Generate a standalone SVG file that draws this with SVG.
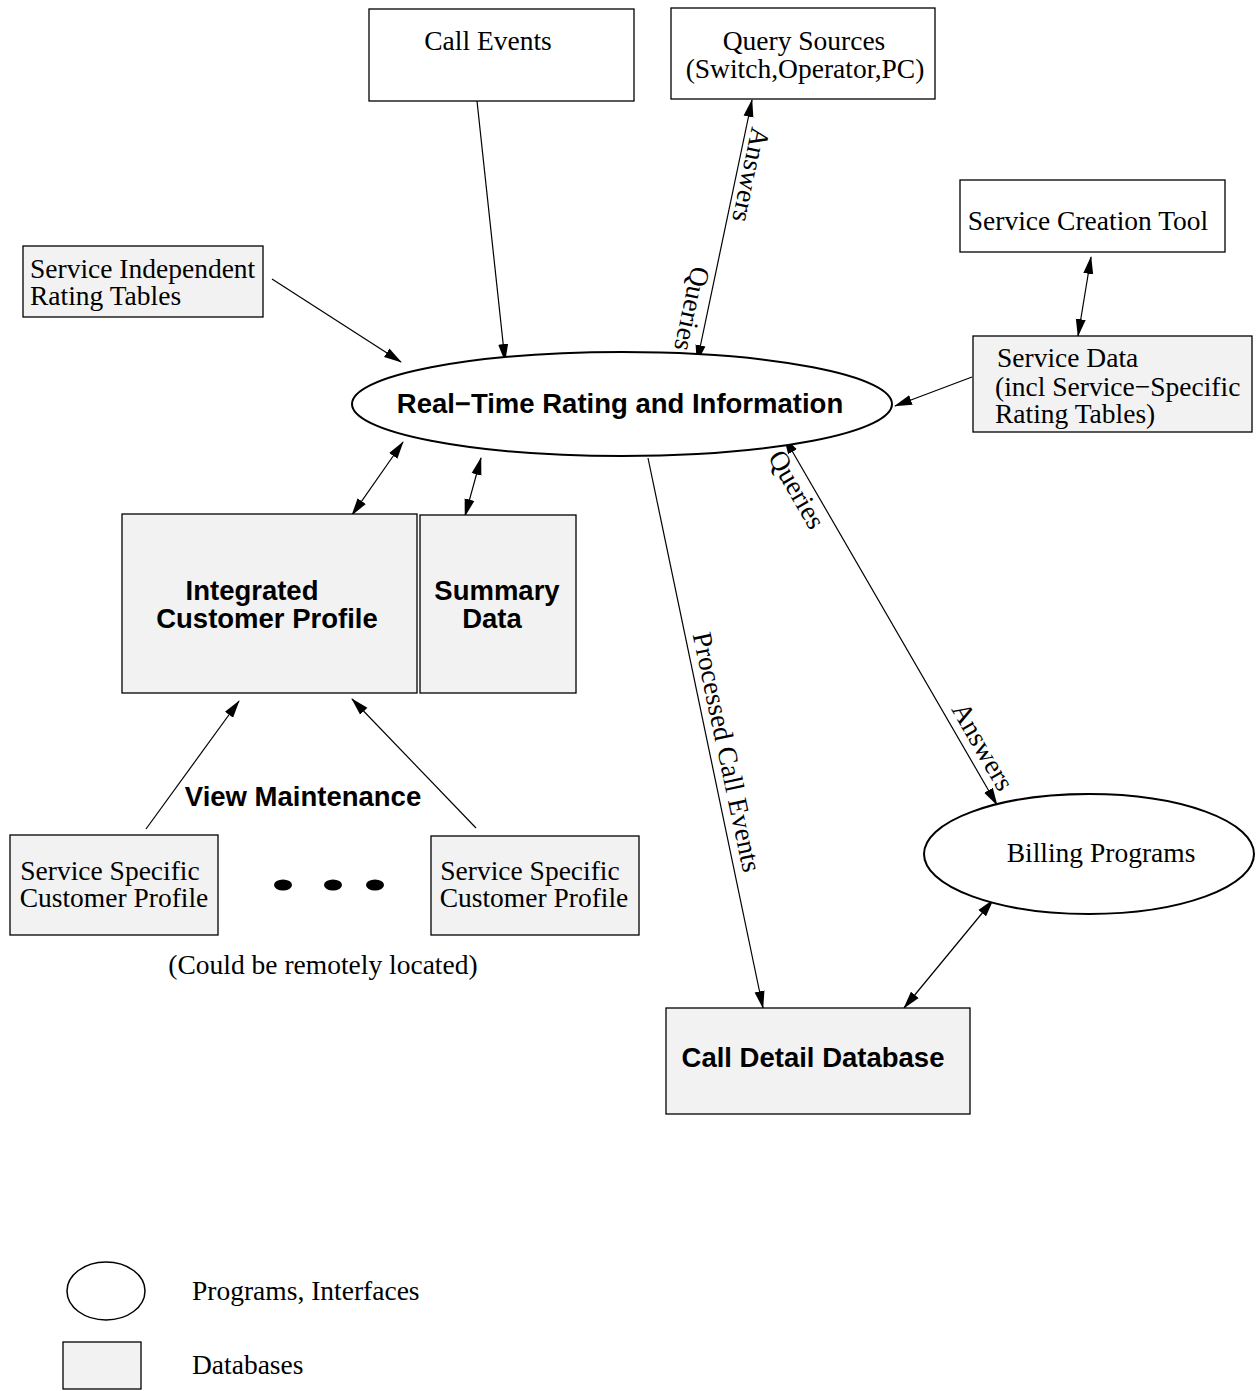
<svg xmlns="http://www.w3.org/2000/svg" width="1259" height="1391" viewBox="0 0 1259 1391">
<style>
.box{fill:#fff;stroke:#000;stroke-width:1.3}
.db{fill:#f2f2f2;stroke:#000;stroke-width:1.3}
.ell{fill:#fff;stroke:#000;stroke-width:2}
.t{font-family:"Liberation Serif","Times New Roman",serif;font-size:27.5px;fill:#000}
.b{font-family:"Liberation Sans",Arial,sans-serif;font-size:27.5px;font-weight:bold;fill:#000}
.c{stroke:#000;stroke-width:1.2;fill:none}
.m{text-anchor:middle}
</style>
<defs>
<marker id="ah" markerUnits="userSpaceOnUse" markerWidth="18" markerHeight="12" refX="17" refY="5" orient="auto-start-reverse" viewBox="0 0 18 10">
<path d="M0,0 L18,5 L0,10 z" fill="#000"/>
</marker>
</defs>
<g id="connectors">
<line class="c" x1="477" y1="101" x2="505" y2="361" marker-end="url(#ah)"/>
<line class="c" x1="752" y1="100" x2="697" y2="362" marker-start="url(#ah)" marker-end="url(#ah)"/>
<line class="c" x1="272" y1="279" x2="401" y2="362" marker-end="url(#ah)"/>
<line class="c" x1="1091" y1="257" x2="1078" y2="336" marker-start="url(#ah)" marker-end="url(#ah)"/>
<line class="c" x1="972" y1="377" x2="895" y2="406" marker-end="url(#ah)"/>
<line class="c" x1="403" y1="442" x2="352" y2="515" marker-start="url(#ah)" marker-end="url(#ah)"/>
<line class="c" x1="481" y1="458" x2="465" y2="516" marker-start="url(#ah)" marker-end="url(#ah)"/>
<line class="c" x1="648" y1="458" x2="763" y2="1008" marker-end="url(#ah)"/>
<line class="c" x1="784" y1="437" x2="997" y2="805" marker-start="url(#ah)" marker-end="url(#ah)"/>
<line class="c" x1="993" y1="900" x2="904" y2="1008" marker-start="url(#ah)" marker-end="url(#ah)"/>
<line class="c" x1="146" y1="829" x2="239" y2="701" marker-end="url(#ah)"/>
<line class="c" x1="476" y1="828" x2="352" y2="699" marker-end="url(#ah)"/>
<text class="t m" transform="translate(742,173) rotate(102)">Answers</text>
<text class="t m" transform="translate(683,307) rotate(102)">Queries</text>
<text class="t m" transform="translate(718,754) rotate(78)">Processed Call Events</text>
<text class="t m" transform="translate(789,494) rotate(60)">Queries</text>
<text class="t m" transform="translate(975,751) rotate(60)">Answers</text>
</g>
<g id="call-events">
<rect class="box" x="369" y="9" width="265" height="92"/>
<text class="t m" x="488" y="50">Call Events</text>
</g>
<g id="query-sources">
<rect class="box" x="671" y="8" width="264" height="91"/>
<text class="t m" x="804" y="50">Query Sources</text>
<text class="t m" x="805" y="78">(Switch,Operator,PC)</text>
</g>
<g id="service-creation-tool">
<rect class="box" x="960" y="180" width="265" height="72"/>
<text class="t m" x="1088" y="230">Service Creation Tool</text>
</g>
<g id="service-independent-rating-tables">
<rect class="db" x="23" y="246" width="240" height="71"/>
<text class="t" x="30" y="278">Service Independent</text>
<text class="t" x="30" y="305">Rating Tables</text>
</g>
<g id="service-data">
<rect class="db" x="973" y="336" width="279" height="96"/>
<text class="t" x="997" y="367">Service Data</text>
<text class="t" x="995" y="396">(incl Service−Specific</text>
<text class="t" x="995" y="423">Rating Tables)</text>
</g>
<g id="real-time-rating">
<ellipse class="ell" cx="622" cy="404" rx="270" ry="52"/>
<text class="b m" x="620" y="413">Real−Time Rating and Information</text>
</g>
<g id="integrated-customer-profile">
<rect class="db" x="122" y="514" width="295" height="179"/>
<text class="b m" x="252" y="600">Integrated</text>
<text class="b m" x="267" y="628">Customer Profile</text>
</g>
<g id="summary-data">
<rect class="db" x="420" y="515" width="156" height="178"/>
<text class="b m" x="497" y="600">Summary</text>
<text class="b m" x="492" y="628">Data</text>
</g>
<g id="view-maintenance">
<text class="b m" x="303" y="806">View Maintenance</text>
</g>
<g id="service-specific-1">
<rect class="db" x="10" y="835" width="208" height="100"/>
<text class="t m" x="110" y="880">Service Specific</text>
<text class="t m" x="114" y="907">Customer Profile</text>
</g>
<g id="dots">
<ellipse cx="283" cy="885" rx="9" ry="5.5" fill="#000"/>
<ellipse cx="333" cy="885" rx="9" ry="5.5" fill="#000"/>
<ellipse cx="375" cy="885" rx="9" ry="5.5" fill="#000"/>
</g>
<g id="service-specific-2">
<rect class="db" x="431" y="836" width="208" height="99"/>
<text class="t m" x="530" y="880">Service Specific</text>
<text class="t m" x="534" y="907">Customer Profile</text>
</g>
<g id="remote-note">
<text class="t m" x="323" y="974">(Could be remotely located)</text>
</g>
<g id="billing-programs">
<ellipse class="ell" cx="1089" cy="854" rx="165" ry="60"/>
<text class="t m" x="1101" y="862">Billing Programs</text>
</g>
<g id="call-detail-database">
<rect class="db" x="666" y="1008" width="304" height="106"/>
<text class="b m" x="813" y="1067">Call Detail Database</text>
</g>
<g id="legend">
<ellipse class="ell" cx="106" cy="1291" rx="39" ry="29" style="stroke-width:1.5"/>
<text class="t" x="192" y="1300">Programs, Interfaces</text>
<rect class="db" x="63" y="1342" width="78" height="47"/>
<text class="t" x="192" y="1374">Databases</text>
</g>
</svg>
